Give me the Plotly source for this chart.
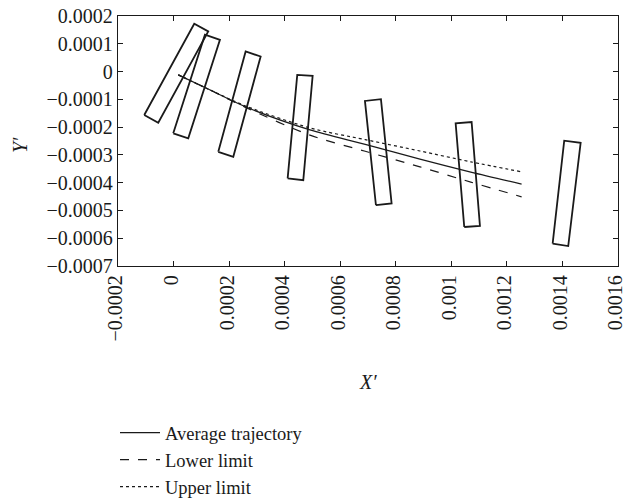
import plotly.graph_objects as go

# Trajectory data
traj_x = [0.000017, 0.00013, 0.000257, 0.000491, 0.00069, 0.000887, 0.00107, 0.001253]
avg_y = [-0.000012, -0.0000657, -0.000126, -0.00021, -0.000262, -0.000315, -0.000362, -0.000405]
lower_y = [-0.000012, -0.0000657, -0.000128, -0.000229, -0.000287, -0.000343, -0.000398, -0.000451]
upper_y = [-0.000012, -0.0000657, -0.000123, -0.000203, -0.000245, -0.000286, -0.000325, -0.000361]

# Rectangle corners (x, y) for each box
rect1_x = [-0.0001055, -0.0000551, 0.0001249, 0.0000745]
rect1_y = [-0.0001563, -0.000184, 0.0001444, 0.0001722]
rect2_x = [-0.0000011, 0.0000529, 0.000167, 0.000113]
rect2_y = [-0.0002224, -0.0002404, 0.0001144, 0.0001325]
rect3_x = [0.000161, 0.000215, 0.0003135, 0.0002595]
rect3_y = [-0.000289, -0.000307, 0.0000542, 0.0000722]
rect4_x = [0.0004107, 0.000467, 0.0005007, 0.0004453]
rect4_y = [-0.0003848, -0.000391, -0.0000155, -0.0000119]
rect5_x = [0.0007286, 0.000785, 0.0007466, 0.000689]
rect5_y = [-0.0004812, -0.000475, -0.0000996, -0.0001058]
rect6_x = [0.0010465, 0.001103, 0.001073, 0.0010155]
rect6_y = [-0.0005596, -0.000556, -0.0001816, -0.0001863]
rect7_x = [0.0013647, 0.0014208, 0.0014655, 0.0014064]
rect7_y = [-0.0006195, -0.0006282, -0.0002563, -0.000249]

x_tickvals = [-0.0002, 0, 0.0002, 0.0004, 0.0006, 0.0008, 0.001, 0.0012, 0.0014, 0.0016]
x_ticktext = ["\u22120.0002", "0", "0.0002", "0.0004", "0.0006", "0.0008", "0.001", "0.0012", "0.0014", "0.0016"]
y_tickvals = [0.0002, 0.0001, 0, -0.0001, -0.0002, -0.0003, -0.0004, -0.0005, -0.0006, -0.0007]
y_ticktext = ["0.0002", "0.0001", "0", "\u22120.0001", "\u22120.0002", "\u22120.0003", "\u22120.0004",
              "\u22120.0005", "\u22120.0006", "\u22120.0007"]

FONT = "Liberation Serif"
INK = "#1a1a1a"
fig = go.Figure()

rects = [(rect1_x, rect1_y), (rect2_x, rect2_y), (rect3_x, rect3_y), (rect4_x, rect4_y),
         (rect5_x, rect5_y), (rect6_x, rect6_y), (rect7_x, rect7_y)]
for rx, ry in rects:
    fig.add_trace(go.Scatter(x=rx + [rx[0]], y=ry + [ry[0]], mode="lines",
                             line=dict(color=INK, width=1.8), showlegend=False,
                             hoverinfo="skip"))

fig.add_trace(go.Scatter(x=traj_x, y=avg_y, mode="lines", name="Average trajectory",
                         line=dict(color=INK, width=1.2, shape="spline", smoothing=0.8)))
fig.add_trace(go.Scatter(x=traj_x, y=lower_y, mode="lines", name="Lower limit",
                         line=dict(color=INK, width=1.2, dash="dash", shape="spline", smoothing=0.8)))
fig.add_trace(go.Scatter(x=traj_x, y=upper_y, mode="lines", name="Upper limit",
                         line=dict(color=INK, width=1.2, dash="dot", shape="spline", smoothing=0.8)))

axis_common = dict(showgrid=False, zeroline=False, showline=True, linecolor=INK,
                   linewidth=1.3, mirror="ticks", ticks="inside", ticklen=5,
                   tickcolor=INK, automargin=False, ticklabeloverflow="allow",
                   tickfont=dict(family=FONT, size=20, color=INK))

fig.update_layout(
    width=626, height=502,
    margin=dict(l=118, r=8, t=16, b=236, autoexpand=False),
    plot_bgcolor="white", paper_bgcolor="white",
    xaxis=dict(range=[-0.0002, 0.0016], tickvals=x_tickvals, ticktext=x_ticktext,
               tickangle=-90, ticklabelshift=-2, **axis_common),
    yaxis=dict(range=[-0.0007, 0.0002], tickvals=y_tickvals, ticktext=y_ticktext,
               **axis_common),
    legend=dict(x=-0.006, y=-0.592, xanchor="left", yanchor="top",
                font=dict(family=FONT, size=18.5, color=INK),
                bgcolor="rgba(0,0,0,0)", tracegroupgap=0, itemwidth=40),
    showlegend=True,
    annotations=[
        dict(text="<i>X\u2032</i>", xref="paper", yref="paper", x=0.5, y=-0.464,
             showarrow=False, font=dict(family=FONT, size=20, color=INK),
             xanchor="center", yanchor="middle"),
        dict(text="<i>Y\u2032</i>", xref="paper", yref="paper", x=-0.196, y=0.484,
             showarrow=False, textangle=-90, font=dict(family=FONT, size=20, color=INK),
             xanchor="center", yanchor="middle"),
    ],
)

# remove the default 8px page margin so the 626x502 figure fills the window exactly
fig.write_html("out.html", config={"displayModeBar": False},
               post_script="document.body.style.margin='0px';")
